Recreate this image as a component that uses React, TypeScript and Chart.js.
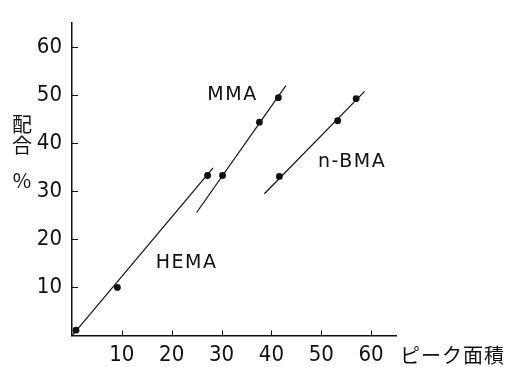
import React, { useEffect, useRef } from "react";
import { Chart, registerables } from "chart.js";

Chart.register(...registerables);

// Tick values
const xTicks = [10, 20, 30, 40, 50, 60];
const yTicks = [10, 20, 30, 40, 50, 60];

// Measured points (ピーク面積, 配合 %)
const hemaX = [0.8, 9.1, 27.2];
const hemaY = [1.1, 10.0, 33.3];
const mmaX = [30.2, 37.6, 41.4];
const mmaY = [33.3, 44.4, 49.5];
const nbmaX = [41.6, 53.3, 57.0];
const nbmaY = [33.1, 44.7, 49.3];

// Fitted calibration lines (endpoints)
const hemaLineX = [0.1, 28.3];
const hemaLineY = [0.1, 34.9];
const mmaLineX = [25.0, 42.9];
const mmaLineY = [25.6, 52.0];
const nbmaLineX = [38.6, 58.7];
const nbmaLineY = [29.5, 50.8];

// Text labels
const seriesLabels = ["HEMA", "MMA", "n-BMA"];
const labelX = [23.0, 32.2, 56.2];
const labelY = [15.0, 50.0, 36.0];
const yTitle = ["配", "合", "%"];
const xTitle = "ピーク面積";

const zip = (xs: number[], ys: number[]) => xs.map((x, i) => ({ x, y: ys[i] }));

const INK = "#111";
const tickFont = '"Liberation Sans Narrow", "DejaVu Sans Condensed", "Liberation Sans", sans-serif';
const labelFont = '"DejaVu Sans", "Liberation Sans", sans-serif';
const cjkFont = '"Noto Sans CJK JP", "Noto Sans CJK SC", sans-serif';

const decorPlugin = {
  id: "decor",
  afterDraw(chart: any) {
    const ctx = chart.ctx as CanvasRenderingContext2D;
    const xs = chart.scales.x;
    const ys = chart.scales.y;
    const area = chart.chartArea;
    ctx.save();
    // inward tick marks
    ctx.strokeStyle = INK;
    ctx.lineWidth = 1;
    yTicks.forEach((v) => {
      const py = Math.round(ys.getPixelForValue(v)) + 0.5;
      ctx.beginPath();
      ctx.moveTo(area.left, py);
      ctx.lineTo(area.left + 6, py);
      ctx.stroke();
    });
    xTicks.forEach((v) => {
      const px = Math.round(xs.getPixelForValue(v)) + 0.5;
      ctx.beginPath();
      ctx.moveTo(px, area.bottom);
      ctx.lineTo(px, area.bottom - 5);
      ctx.stroke();
    });
    // series labels
    ctx.fillStyle = INK;
    ctx.font = `19px ${labelFont}`;
    ctx.textAlign = "center";
    ctx.textBaseline = "middle";
    (ctx as any).letterSpacing = "1.5px";
    seriesLabels.forEach((t, i) => {
      ctx.fillText(t, xs.getPixelForValue(labelX[i]), ys.getPixelForValue(labelY[i]));
    });
    (ctx as any).letterSpacing = "0px";
    // y title, stacked vertically
    ctx.font = `20px ${cjkFont}`;
    const yTitlePos = [124, 145, 180];
    yTitle.forEach((c, i) => {
      ctx.fillText(c, 22, yTitlePos[i]);
    });
    // x title
    ctx.textAlign = "left";
    (ctx as any).letterSpacing = "1px";
    ctx.fillText(xTitle, 400, 355);
    ctx.restore();
  },
};

export default function App() {
  const ref = useRef<HTMLCanvasElement | null>(null);
  useEffect(() => {
    if (!ref.current) return;
    const pointDs = (xs: number[], ys: number[]) => ({
      data: zip(xs, ys),
      showLine: false,
      pointRadius: 3.4,
      pointBackgroundColor: INK,
      pointBorderColor: INK,
      pointBorderWidth: 0,
    });
    const lineDs = (xs: number[], ys: number[]) => ({
      data: zip(xs, ys),
      showLine: true,
      borderColor: INK,
      borderWidth: 1.2,
      pointRadius: 0,
      fill: false,
    });
    const chart = new Chart(ref.current, {
      type: "scatter",
      data: {
        datasets: [
          lineDs(hemaLineX, hemaLineY),
          lineDs(mmaLineX, mmaLineY),
          lineDs(nbmaLineX, nbmaLineY),
          pointDs(hemaX, hemaY),
          pointDs(mmaX, mmaY),
          pointDs(nbmaX, nbmaY),
        ] as any,
      },
      options: {
        responsive: false,
        animation: false,
        layout: { padding: { top: 9, right: 113, left: 0, bottom: 0 } },
        plugins: { legend: { display: false }, tooltip: { enabled: false } },
        scales: {
          x: {
            type: "linear",
            min: 0,
            max: 65,
            grid: { display: false, drawTicks: false },
            border: { display: true, color: INK, width: 1.5 },
            afterBuildTicks: (s: any) => {
              s.ticks = xTicks.map((v) => ({ value: v }));
            },
            afterFit: (s: any) => {
              s.height = 31.5;
            },
            ticks: {
              color: INK,
              padding: 7,
              maxRotation: 0,
              autoSkip: false,
              font: { family: tickFont, size: 22 },
            },
          },
          y: {
            type: "linear",
            min: 0,
            max: 65,
            grid: { display: false, drawTicks: false },
            border: { display: true, color: INK, width: 1.5 },
            afterBuildTicks: (s: any) => {
              s.ticks = yTicks.map((v) => ({ value: v }));
            },
            afterFit: (s: any) => {
              s.width = 72;
            },
            ticks: {
              color: INK,
              padding: 10,
              autoSkip: false,
              font: { family: tickFont, size: 22 },
            },
          },
        },
      },
      plugins: [decorPlugin],
    });
    return () => chart.destroy();
  }, []);
  return (
    <div style={{ position: "fixed", left: 0, top: 0, width: 509, height: 367, background: "#fff" }}>
      <canvas ref={ref} width={509} height={367} style={{ width: 509, height: 367 }} />
    </div>
  );
}
